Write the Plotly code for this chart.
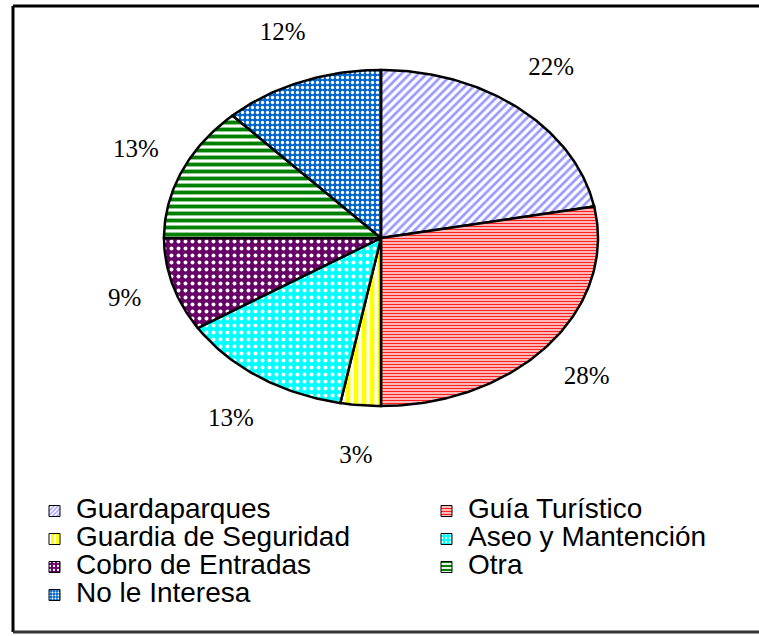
import numpy as np
import plotly.graph_objects as go

categories = ["Guardaparques", "Guía Turístico", "Guardia de Seguridad",
              "Aseo y Mantención", "Cobro de Entradas", "Otra", "No le Interesa"]
values = [22, 28, 3, 13, 9, 13, 12]
labels = ["22%", "28%", "3%", "13%", "9%", "13%", "12%"]

# pattern styles per slice: (shape, fg, bg, size, solidity)
styles = [
    ("/", "#9999FF", "white", 6, 0.45),
    ("-", "#FF2020", "white", 3, 0.55),
    ("|", "#FFFF00", "white", 8, 0.6),
    (".", "white", "#00FFFF", 7, 0.25),
    (".", "white", "#660066", 7, 0.25),
    ("-", "#008000", "white", 7, 0.55),
    (".", "white", "#0066CC", 5, 0.35),
]

W, H = 759, 636
cx, cy, rx, ry = 381, 238, 217, 168
lrx, lry = 267, 220

fig = go.Figure()
total = sum(values)
start = 0.0
lx, ly = [], []
for cat, v, st in zip(categories, values, styles):
    a0 = start / total * 2 * np.pi
    a1 = (start + v) / total * 2 * np.pi
    th = np.linspace(a0, a1, max(int(v * 4), 8))
    xs = np.concatenate([[cx], cx + rx * np.sin(th), [cx]])
    ys = np.concatenate([[cy], cy - ry * np.cos(th), [cy]])
    shape, fg, bg, size, sol = st
    fig.add_trace(go.Scatter(
        x=xs, y=ys, mode="lines", fill="toself", name=cat, showlegend=False,
        line=dict(color="black", width=2.5),
        fillcolor=bg,
        fillpattern=dict(shape=shape, fgcolor=fg, bgcolor=bg, size=size,
                         solidity=sol, fillmode="replace"),
        hoverinfo="name",
    ))
    am = (a0 + a1) / 2
    lx.append(cx + lrx * np.sin(am))
    ly.append(cy - lry * np.cos(am))
    start += v

fig.add_trace(go.Scatter(
    x=lx, y=ly, mode="text", text=labels, showlegend=False,
    textfont=dict(family="Liberation Serif, Times New Roman, serif", size=25, color="black"),
    hoverinfo="skip",
))

# custom legend (two columns, small patterned keys)
col_key_x = [49, 441]
row_y0, row_dy = 511, 28
key = 11
tx, ty = [], []
for i, (cat, st) in enumerate(zip(categories, styles)):
    r, c = divmod(i, 2)
    kx = col_key_x[c]
    ky = row_y0 + r * row_dy
    shape, fg, bg, size, sol = st
    fig.add_trace(go.Scatter(
        x=[kx, kx + key, kx + key, kx, kx],
        y=[ky - key / 2, ky - key / 2, ky + key / 2, ky + key / 2, ky - key / 2],
        mode="lines", fill="toself", showlegend=False, hoverinfo="skip",
        line=dict(color="black", width=1), fillcolor=bg,
        fillpattern=dict(shape=shape, fgcolor=fg, bgcolor=bg, size=max(3, size - 3),
                         solidity=sol, fillmode="replace"),
    ))
    tx.append(kx + key + 16)
    ty.append(ky)

fig.add_trace(go.Scatter(
    x=tx, y=ty, mode="text", text=categories, textposition="middle right",
    showlegend=False, hoverinfo="skip",
    textfont=dict(family="Liberation Sans, Arial, sans-serif", size=28, color="black"),
))

bx0, by0, by1 = 13 / W, 1 - 632 / H, 1 - 6 / H
border = dict(color="black", width=3)
fig.update_layout(
    width=W, height=H,
    margin=dict(l=0, r=0, t=0, b=0),
    paper_bgcolor="white", plot_bgcolor="white",
    xaxis=dict(range=[0, W], visible=False, fixedrange=True),
    yaxis=dict(range=[H, 0], visible=False, fixedrange=True),
    showlegend=False,
    shapes=[
        dict(type="line", xref="paper", yref="paper", x0=bx0, x1=bx0, y0=by0, y1=by1, line=border),
        dict(type="line", xref="paper", yref="paper", x0=bx0, x1=1.0, y0=by1, y1=by1, line=border),
        dict(type="line", xref="paper", yref="paper", x0=bx0, x1=1.0, y0=by0, y1=by0,
             line=dict(color="#333333", width=3)),
    ],
)

fig.write_html("out.html", config={"displayModeBar": False},
               post_script="document.body.style.margin='0';document.body.style.overflow='hidden';")
